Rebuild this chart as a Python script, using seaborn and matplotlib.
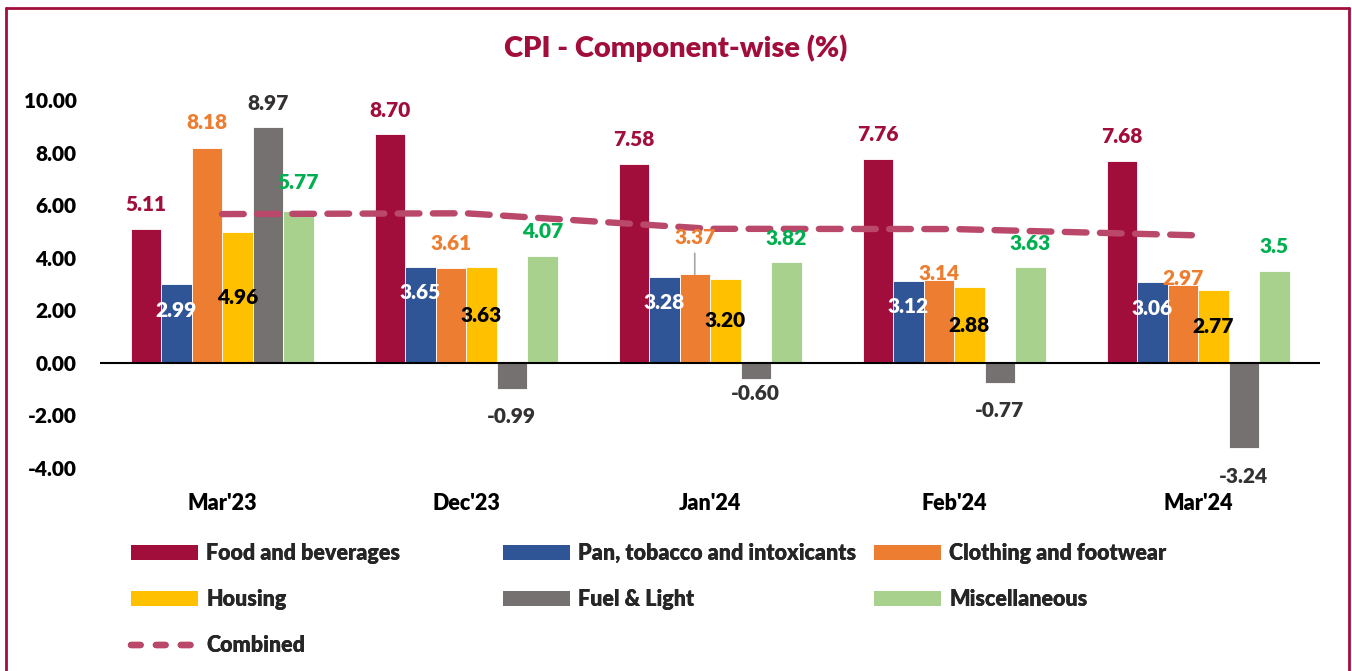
import numpy as np
import pandas as pd
import matplotlib
matplotlib.use("Agg")
import matplotlib.pyplot as plt
import seaborn as sns
from matplotlib.lines import Line2D
from matplotlib.patches import Patch

# ---------------- data ----------------
months = ["Mar'23", "Dec'23", "Jan'24", "Feb'24", "Mar'24"]
components = ["Food and beverages", "Pan, tobacco and intoxicants",
              "Clothing and footwear", "Housing", "Fuel & Light", "Miscellaneous"]
food = [5.11, 8.70, 7.58, 7.76, 7.68]
pan = [2.99, 3.65, 3.28, 3.12, 3.06]
clothing = [8.18, 3.61, 3.37, 3.14, 2.97]
housing = [4.96, 3.63, 3.20, 2.88, 2.77]
fuel = [8.97, -0.99, -0.60, -0.77, -3.24]
misc = [5.77, 4.07, 3.82, 3.63, 3.5]
misc_labels = ["5.77", "4.07", "3.82", "3.63", "3.5"]
combined = [5.66, 5.69, 5.10, 5.09, 4.85]
yticks = [-4, -2, 0, 2, 4, 6, 8, 10]

series = [food, pan, clothing, housing, fuel, misc]

# ---------------- style ----------------
colors = ["#A20E3B", "#2F5597", "#ED7D31", "#FFC000", "#767171", "#A9D18E"]
maroon = "#A20E3B"
line_color = "#B9486B"
WT = "heavy"
FS = 15

sns.set_theme(style="white")
plt.rcParams["font.family"] = ["Lato", "DejaVu Sans"]

W, H = 1352, 671
fig = plt.figure(figsize=(W / 100, H / 100), dpi=100)
ax = fig.add_axes([100 / W, 1 - 468 / H, 1220 / W, 368 / H])

rows = []
for comp, vals in zip(components, series):
    for m, v in zip(months, vals):
        rows.append({"month": m, "component": comp, "value": v})
df = pd.DataFrame(rows)

sns.barplot(data=df, x="month", y="value", hue="component", order=months,
            hue_order=components, palette=colors, saturation=1, width=0.75,
            gap=0, edgecolor="white", linewidth=0.6, errorbar=None,
            legend=False, ax=ax)

pos = [months.index(m) for m in months]
sns.lineplot(x=pos, y=combined, color=line_color, linewidth=4.6,
             linestyle=(0, (3.4, 2.1)), ax=ax, legend=False, zorder=5)
for ln in ax.get_lines():
    ln.set_dash_capstyle("round")

ax.axhline(0, color="black", lw=1.5, zorder=4)

ax.set_xlim(-0.5, 4.5)
ax.set_ylim(-4, 10)
ax.set_yticks(yticks)
ax.set_yticklabels([f"{t:.2f}" for t in yticks])
ax.tick_params(axis="both", length=0)
ax.tick_params(axis="y", pad=17, labelsize=FS)
ax.tick_params(axis="x", pad=18, labelsize=FS + 0.5)
for lab in ax.get_xticklabels() + ax.get_yticklabels():
    lab.set_fontweight(WT)
    lab.set_color("black")
ax.set_xlabel("")
ax.set_ylabel("")
for s in ax.spines.values():
    s.set_visible(False)

# ---------------- data labels ----------------
px = 0.72  # px -> pt
label_cfg = [
    # (color, mode, offsets in px)
    (maroon, "above", [24, 24, 24, 24, 24]),
    ("white", "inside", [-26, -26, -26, -26, -26]),
    ("#ED7D31", "above", [25, 24, 37, 7, 6]),
    ("black", "center", [0, 0, 0, 0, 0]),
    ("#333131", "above", [24, -28, -15, -27, -28]),
    ("#00B050", "above", [29, 24, 24, 24, 24]),
]
for ci, (cont, vals, (col, mode, offs)) in enumerate(zip(ax.containers, series, label_cfg)):
    for j, (bar, v) in enumerate(zip(cont.patches, vals)):
        xc = bar.get_x() + bar.get_width() / 2
        txt = misc_labels[j] if ci == 5 else f"{v:.2f}"
        if mode == "center":
            xy = (xc, v / 2)
            off = 0
        else:
            xy = (xc, v)
            off = offs[j] * px
        ax.annotate(txt, xy=xy, xytext=(0, off), textcoords="offset points",
                    ha="center", va="center", fontsize=FS, fontweight=WT,
                    color=col, zorder=6)

# leader line for the clothing Jan'24 label
bar = ax.containers[2].patches[2]
xc = bar.get_x() + bar.get_width() / 2
ax.annotate("", xy=(xc, clothing[2]), xytext=(xc, clothing[2] + 21 / 26.3),
            arrowprops=dict(arrowstyle="-", color="#A6A6A6", lw=1.2,
                            shrinkA=0, shrinkB=0), zorder=3)

# ---------------- title ----------------
fig.text(0.5, 1 - 48 / H, "CPI - Component-wise (%)", ha="center", va="center",
         fontsize=21, fontweight=WT, color=maroon)

# ---------------- legend (3 columns) ----------------
LFS = 15.5
patch = lambda c: Patch(facecolor=c, edgecolor="none")
comb_handle = Line2D([], [], color=line_color, lw=4.6, linestyle=(0, (1.5, 2.4)),
                     dash_capstyle="round")
cols = [
    ([patch(colors[0]), patch(colors[3]), comb_handle],
     [components[0], components[3], "Combined"], 131),
    ([patch(colors[1]), patch(colors[4])], [components[1], components[4]], 503),
    ([patch(colors[2]), patch(colors[5])], [components[2], components[5]], 874),
]
for handles, labels, x0 in cols:
    leg = fig.legend(handles, labels, loc="upper left",
                     bbox_to_anchor=(x0 / W, 1 - 543 / H), frameon=False,
                     borderpad=0, borderaxespad=0, handlelength=3.1,
                     handleheight=0.66, handletextpad=0.4, labelspacing=1.17,
                     prop={"size": LFS, "weight": WT})
    fig.add_artist(leg)

# ---------------- border ----------------
bx0, bx1, by0 = 5.5 / W, 1348.5 / W, 1 - 8 / H
for xs, ys in [([bx0, bx0], [-0.05, by0]), ([bx0, bx1], [by0, by0]),
               ([bx1, bx1], [by0, -0.05])]:
    fig.add_artist(Line2D(xs, ys, transform=fig.transFigure, color=maroon,
                          lw=2, clip_on=False))

fig.savefig("out.png", dpi=100)
